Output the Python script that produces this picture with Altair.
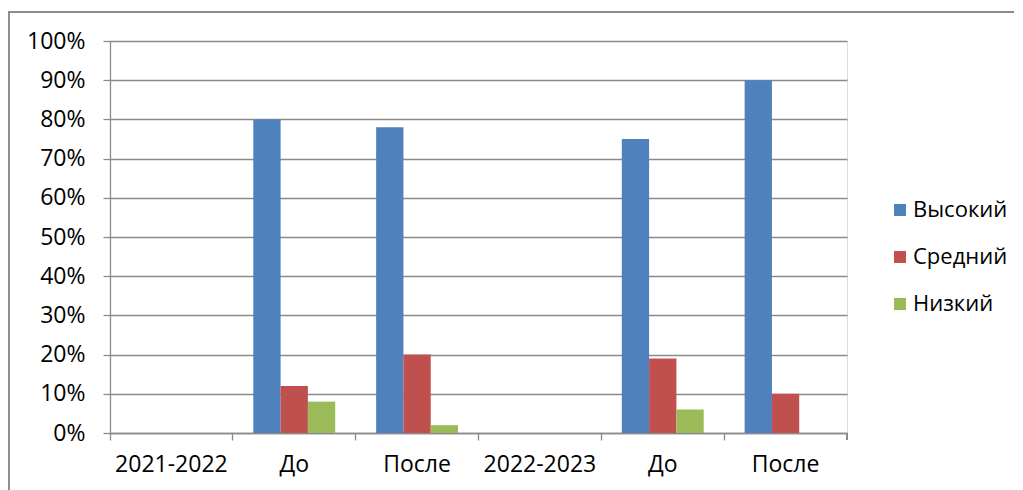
import altair as alt
import pandas as pd

categories = ["2021-2022", "До", "После", "2022-2023", "До", "После"]
series = ["Высокий", "Средний", "Низкий"]
vysokiy = [0.00, 0.80, 0.78, 0.00, 0.75, 0.90]
sredniy = [0.00, 0.12, 0.20, 0.00, 0.19, 0.10]
nizkiy = [0.00, 0.08, 0.02, 0.00, 0.06, 0.00]
colors = ["#4F81BD", "#C0504D", "#9BBB59"]

rows = []
for name, vals in zip(series, [vysokiy, sredniy, nizkiy]):
    for i, v in enumerate(vals):
        rows.append({"idx": i, "cat": categories[i], "series": name, "value": v})
df = pd.DataFrame(rows)

label_arr = "[" + ",".join("'" + c + "'" for c in categories) + "]"

FONT = "Open Sans"
W, H = 737, 392

bars = alt.Chart(df).mark_bar(size=27.3).encode(
    x=alt.X("idx:O", title=None,
            scale=alt.Scale(paddingInner=0, paddingOuter=0),
            axis=alt.Axis(labelExpr=label_arr + "[datum.value]", labelAngle=0,
                          bandPosition=0, tickSize=7, labelPadding=13,
                          labelFontSize=23, labelFont=FONT, labelColor="#000000",
                          domainColor="#8A8A8A", tickColor="#8A8A8A",
                          domainWidth=1.3, tickWidth=1.3,
                          grid=False)),
    xOffset=alt.XOffset("series:N", sort=series,
                        scale=alt.Scale(paddingInner=0, paddingOuter=0.75)),
    y=alt.Y("value:Q", title=None,
            scale=alt.Scale(domain=[0, 1]),
            axis=alt.Axis(values=[i / 10 for i in range(11)], format=".0%",
                          tickSize=7, labelPadding=18, labelFontSize=23,
                          labelFont=FONT, labelColor="#000000",
                          domainColor="#8A8A8A", tickColor="#8A8A8A",
                          domainWidth=1.3, tickWidth=1.3,
                          gridColor="#8A8A8A", gridWidth=1.3)),
    color=alt.Color("series:N", sort=series,
                    scale=alt.Scale(domain=series, range=colors),
                    legend=alt.Legend(title=None, orient="none",
                                      legendX=779, legendY=158,
                                      symbolType="square", symbolSize=144,
                                      symbolStrokeWidth=0, labelFontSize=22,
                                      labelFont=FONT, labelColor="#000000",
                                      rowPadding=25, labelOffset=2, padding=0)),
)

end_tick = alt.Chart(df).mark_rule(color="#8A8A8A", strokeWidth=1.3).encode(
    x=alt.value(W), y=alt.value(H), y2=alt.value(H + 7)
)
frame_left = alt.Chart(df).mark_rule(color="#8C8C8C", strokeWidth=1.3).encode(
    x=alt.value(-101.5), y=alt.value(-29), y2=alt.value(H + 57)
)
frame_top = alt.Chart(df).mark_rule(color="#8C8C8C", strokeWidth=1.3).encode(
    x=alt.value(-101.5), x2=alt.value(W + 167), y=alt.value(-29)
)

chart = alt.layer(bars, end_tick, frame_left, frame_top).properties(
    width=W, height=H,
    autosize=alt.AutoSizeParams(type="none"),
    padding={"left": 102, "top": 33, "right": 167, "bottom": 57},
).configure_view(stroke=None).configure(background="white")

chart.save("out.html", embed_options={"renderer": "svg", "actions": False})
